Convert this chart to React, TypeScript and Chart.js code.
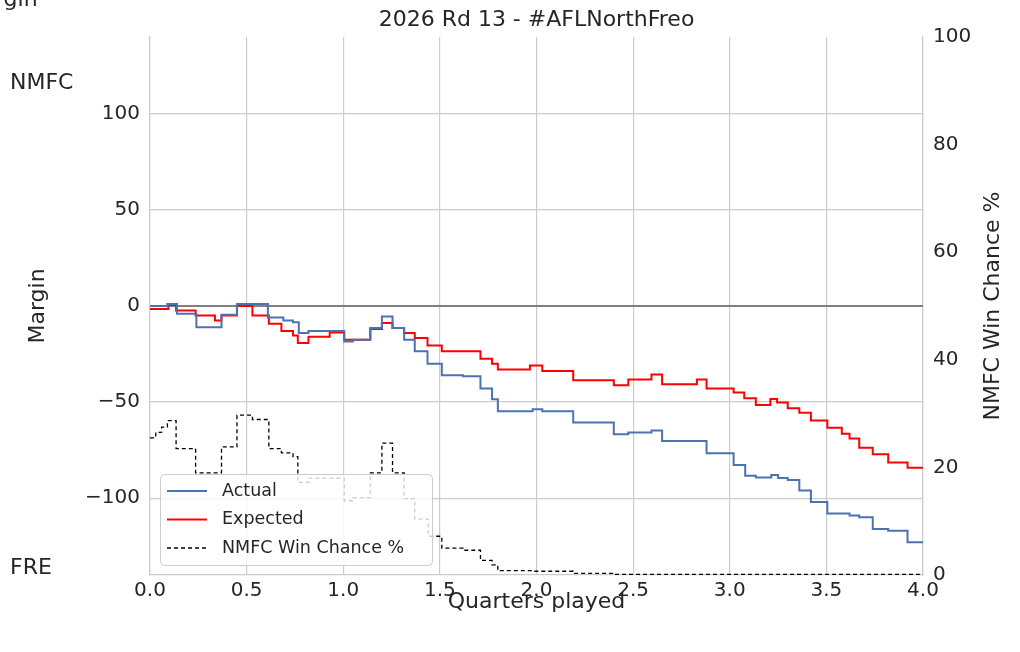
import React, { useEffect, useRef } from "react";
import { Chart, registerables } from "chart.js";
Chart.register(...registerables);

const actualQ = [0, 0.09, 0.14, 0.24, 0.37, 0.45, 0.61, 0.69, 0.74, 0.77, 0.82, 1.005, 1.05, 1.14, 1.2, 1.255, 1.315, 1.37, 1.436, 1.51, 1.62, 1.71, 1.77, 1.8, 1.98, 2.03, 2.19, 2.4, 2.475, 2.595, 2.65, 2.88, 3.02, 3.08, 3.135, 3.215, 3.25, 3.3, 3.36, 3.42, 3.505, 3.62, 3.67, 3.74, 3.82, 3.92, 4.0];
const actualM = [0, 1, -4, -11, -4.5, 1, -6, -7.5, -8.5, -14, -13, -18.5, -17.5, -11.5, -5.5, -11.5, -17.5, -23.5, -30, -36, -36.6, -43, -48.5, -54.8, -53.7, -54.8, -60.6, -66.8, -65.8, -64.8, -70.3, -76.6, -82.7, -88.3, -89.3, -88, -89.5, -90.5, -96, -102, -108, -109, -110, -116, -117, -123, -123];

const expectedQ = [0, 0.095, 0.135, 0.236, 0.336, 0.37, 0.45, 0.53, 0.615, 0.68, 0.74, 0.765, 0.82, 0.93, 1.005, 1.14, 1.2, 1.255, 1.315, 1.37, 1.436, 1.51, 1.71, 1.77, 1.8, 1.966, 2.03, 2.19, 2.4, 2.475, 2.595, 2.65, 2.83, 2.88, 3.02, 3.075, 3.135, 3.21, 3.245, 3.3, 3.36, 3.42, 3.505, 3.58, 3.62, 3.67, 3.74, 3.82, 3.92, 4.0];
const expectedM = [-1.5, 0.5, -2.4, -5, -7.6, -5, 0, -5, -9.3, -13, -15.4, -19.3, -16, -13.8, -17.5, -12, -8.8, -11.5, -14, -16.7, -20.5, -23.6, -27.5, -30, -33, -31, -33.8, -38.7, -41.3, -38.2, -35.6, -40.7, -38.2, -43, -45, -48, -51.5, -48.4, -50.2, -53.2, -55.6, -59.6, -63.4, -66.5, -69, -73.8, -77.1, -81.4, -84.2, -84.2];

const winQ = [0, 0.03, 0.06, 0.09, 0.135, 0.236, 0.37, 0.45, 0.53, 0.615, 0.68, 0.74, 0.765, 0.82, 1.005, 1.05, 1.14, 1.2, 1.255, 1.315, 1.37, 1.44, 1.51, 1.62, 1.71, 1.77, 1.8, 1.98, 2.19, 2.4, 4.0];
const winPct = [25.5, 26.5, 27.5, 28.7, 23.5, 19, 23.8, 29.7, 28.9, 23.5, 22.7, 22, 17.2, 18, 13.8, 14.4, 19, 24.5, 19, 14.2, 10.4, 7.2, 5, 4.6, 2.7, 1.9, 0.8, 0.7, 0.3, 0.1, 0.1];

const xTicks = [0, 0.5, 1, 1.5, 2, 2.5, 3, 3.5, 4];
const leftTicks = [-100, -50, 0, 50, 100];

const FONT = "DejaVu Sans";
const TXT = "#262626";

const overlay = {
  id: "overlay",
  afterDraw(chart: any) {
    const ctx = chart.ctx;
    const a = chart.chartArea;
    ctx.save();
    ctx.fillStyle = TXT;
    ctx.font = `22px ${FONT}`;
    ctx.textAlign = "center";
    ctx.textBaseline = "middle";
    ctx.fillText("2026 Rd 13 - #AFLNorthFreo", (a.left + a.right) / 2, 20);
    ctx.fillText("Quarters played", (a.left + a.right) / 2, 602);
    ctx.fillText("Margin", 0, 0);
    ctx.save();
    ctx.translate(38, (a.top + a.bottom) / 2);
    ctx.rotate(-Math.PI / 2);
    ctx.clearRect(-60, -14, 120, 28);
    ctx.fillText("Margin", 0, 0);
    ctx.restore();
    ctx.save();
    ctx.translate(993, (a.top + a.bottom) / 2);
    ctx.rotate(-Math.PI / 2);
    ctx.fillText("NMFC Win Chance %", 0, 0);
    ctx.restore();
    ctx.textAlign = "left";
    ctx.fillText("NMFC", 10, 83);
    ctx.fillText("FRE", 10, 568);
    // legend
    const lx = 160, ly = 474, lw = 272, lh = 91;
    ctx.fillStyle = "rgba(255,255,255,0.8)";
    ctx.strokeStyle = "#cccccc";
    ctx.lineWidth = 1;
    ctx.beginPath();
    (ctx as any).roundRect(lx + 0.5, ly + 0.5, lw, lh, 4);
    ctx.fill();
    ctx.stroke();
    const items = [
      { t: "Actual", c: "#4c72b0", d: [] as number[], w: 2 },
      { t: "Expected", c: "#ff0000", d: [], w: 2 },
      { t: "NMFC Win Chance %", c: "#000000", d: [4, 3], w: 1.3 },
    ];
    ctx.font = `17.5px ${FONT}`;
    items.forEach((it, i) => {
      const y = 491 + i * 28.5;
      ctx.strokeStyle = it.c;
      ctx.lineWidth = it.w;
      ctx.setLineDash(it.d);
      ctx.beginPath();
      ctx.moveTo(167, y);
      ctx.lineTo(207, y);
      ctx.stroke();
      ctx.setLineDash([]);
      ctx.fillStyle = TXT;
      ctx.fillText(it.t, 222, y);
    });
    ctx.restore();
  },
};

const zeroLine = {
  id: "zeroLine",
  beforeDatasetsDraw(chart: any) {
    const ctx = chart.ctx;
    const a = chart.chartArea;
    const y = chart.scales.y.getPixelForValue(0);
    ctx.save();
    ctx.strokeStyle = "#808080";
    ctx.lineWidth = 2;
    ctx.beginPath();
    ctx.moveTo(a.left, y);
    ctx.lineTo(a.right, y);
    ctx.stroke();
    ctx.restore();
  },
};

export default function App() {
  const ref = useRef<HTMLCanvasElement>(null);
  useEffect(() => {
    document.body.style.margin = "0";
    const mk = (xs: number[], ys: number[]) => xs.map((x, i) => ({ x, y: ys[i] }));
    const chart = new Chart(ref.current!, {
      type: "line",
      data: {
        datasets: [
          { label: "Actual", data: mk(actualQ, actualM), borderColor: "#4c72b0", borderWidth: 2, stepped: "before", pointRadius: 0, yAxisID: "y" },
          { label: "Expected", data: mk(expectedQ, expectedM), borderColor: "#ff0000", borderWidth: 2, stepped: "before", pointRadius: 0, yAxisID: "y" },
          { label: "NMFC Win Chance %", data: mk(winQ, winPct), borderColor: "#000000", borderWidth: 1.3, borderDash: [4, 3], stepped: "before", pointRadius: 0, yAxisID: "y2" },
        ] as any,
      },
      options: {
        animation: false,
        responsive: false,
        layout: { padding: { top: 37, left: 0, right: 0, bottom: 0 } },
        plugins: { legend: { display: false }, tooltip: { enabled: false } },
        scales: {
          x: {
            type: "linear", min: 0, max: 4,
            afterBuildTicks: (s: any) => { s.ticks = xTicks.map((v) => ({ value: v })); },
            afterFit: (s: any) => { s.height = 77; },
            ticks: { color: TXT, font: { family: FONT, size: 20 }, padding: 4, callback: (v: any) => Number(v).toFixed(1) },
            grid: { color: "#cccccc", lineWidth: 1.2, drawTicks: false },
            border: { color: "#cccccc", width: 1.2 },
          },
          y: {
            type: "linear", position: "left", min: -140, max: 140,
            afterBuildTicks: (s: any) => { s.ticks = leftTicks.map((v) => ({ value: v })); },
            afterFit: (s: any) => { s.width = 150; },
            ticks: { color: TXT, font: { family: FONT, size: 20 }, padding: 10, callback: (v: any) => String(v).replace("-", "\u2212") },
            grid: { color: "#cccccc", lineWidth: 1.2, drawTicks: false },
            border: { color: "#cccccc", width: 1.2 },
          },
          y2: {
            type: "linear", position: "right", min: 0, max: 100,
            ticks: { stepSize: 20, color: TXT, font: { family: FONT, size: 20 }, padding: 4 },
            afterFit: (s: any) => { s.width = 97; },
            grid: { display: false, drawTicks: true, tickLength: 6, color: "#cccccc" } as any,
            border: { color: "#cccccc", width: 1.2 },
          },
        },
      } as any,
      plugins: [zeroLine, overlay],
    });
    return () => chart.destroy();
  }, []);
  return <canvas ref={ref} width={1020} height={652} style={{ display: "block" }} />;
}
